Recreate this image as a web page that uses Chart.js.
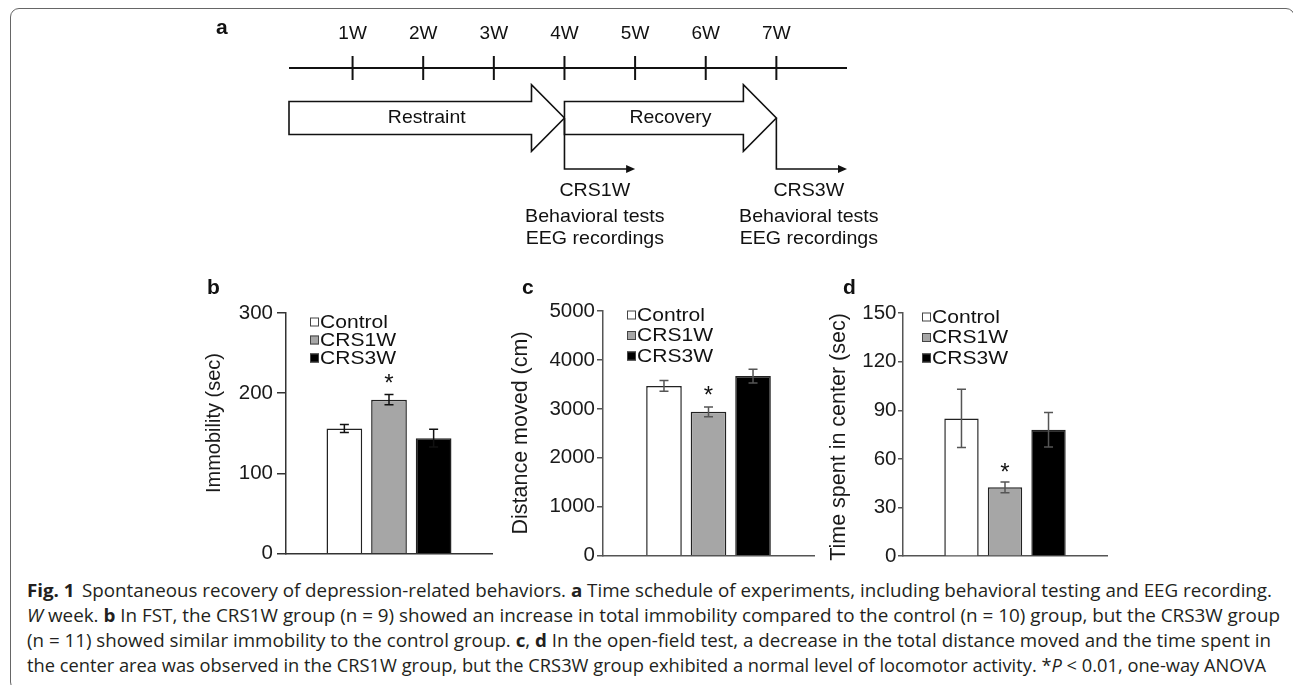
<!DOCTYPE html>
<html lang="en">
<head>
<meta charset="UTF-8">
<meta name="viewport" content="width=device-width, initial-scale=1.0">
<title>Fig. 1 Spontaneous recovery of depression-related behaviors</title>
<script src="https://cdn.jsdelivr.net/npm/chart.js"></script>
<style>
  html, body { margin: 0; padding: 0; background: #fff; }
  body {
    position: relative;
    width: 1293px;
    height: 685px;
    overflow: hidden;
    font-family: "Liberation Sans", Arial, sans-serif;
    color: #111;
  }
  .frame {
    position: absolute;
    left: 10px; top: 8px;
    width: 1285px; height: 683px;
    border: 1px solid #666;
    border-radius: 9px;
    box-sizing: border-box;
  }
  canvas { position: absolute; }
  .tag { position: absolute; font-size: 21px; font-weight: bold; line-height: 21px; }
  #caption { position: absolute; left: 0; top: 575px; }
</style>
</head>
<body>
<div class="frame"></div>

<canvas id="schedule" width="720" height="262" style="left:180px;top:0"></canvas>
<canvas id="immobility" width="310" height="305" style="left:195px;top:265px"></canvas>
<canvas id="distance" width="330" height="305" style="left:495px;top:265px"></canvas>
<canvas id="centerTime" width="300" height="305" style="left:815px;top:265px"></canvas>

<div class="tag" style="left:216px;top:16px">a</div>
<div class="tag" style="left:207px;top:276px">b</div>
<div class="tag" style="left:522px;top:276px">c</div>
<div class="tag" style="left:843px;top:276px">d</div>

<svg id="caption" width="1293" height="110">
  <g font-family="'Open Sans', 'Noto Sans', sans-serif" font-size="17.5" fill="#231f20">
    <text x="27" y="21.5" textLength="1245" lengthAdjust="spacingAndGlyphs"><tspan font-weight="bold">Fig. 1</tspan><tspan dx="7">Spontaneous recovery of depression-related behaviors. </tspan><tspan font-weight="bold">a</tspan> Time schedule of experiments, including behavioral testing and EEG recording.</text>
    <text x="27" y="46.5" textLength="1253" lengthAdjust="spacingAndGlyphs"><tspan font-style="italic">W</tspan> week. <tspan font-weight="bold">b</tspan> In FST, the CRS1W group (n = 9) showed an increase in total immobility compared to the control (n = 10) group, but the CRS3W group</text>
    <text x="27" y="71.5" textLength="1244" lengthAdjust="spacingAndGlyphs">(n = 11) showed similar immobility to the control group. <tspan font-weight="bold">c</tspan>, <tspan font-weight="bold">d</tspan> In the open-field test, a decrease in the total distance moved and the time spent in</text>
    <text x="27" y="96.5" textLength="1239" lengthAdjust="spacingAndGlyphs">the center area was observed in the CRS1W group, but the CRS3W group exhibited a normal level of locomotor activity. *<tspan font-style="italic">P</tspan> &lt; 0.01, one-way ANOVA</text>
  </g>
</svg>

<script>
// ---- data ----
const groups = ['Control', 'CRS1W', 'CRS3W'];
const groupFill = ['#ffffff', '#a6a6a6', '#000000'];
const starred = [false, true, false];   // *P < 0.01 vs control

// b: forced swim test
const immobilityMean = [156, 192, 144];
const immobilityErr = [5, 6.5, 11];
const immobilityTicks = [0, 100, 200, 300];

// c: open field, distance
const distanceMean = [3470, 2940, 3670];
const distanceErr = [110, 100, 140];
const distanceTicks = [0, 1000, 2000, 3000, 4000, 5000];

// d: open field, time in center
const centerMean = [85, 42.5, 78];
const centerErr = [18, 3.3, 10.7];
const centerTicks = [0, 30, 60, 90, 120, 150];

// a: time schedule (weeks)
const weekTicks = [1, 2, 3, 4, 5, 6, 7];
const weekLabels = ['1W', '2W', '3W', '4W', '5W', '6W', '7W'];
const timelineSpan = [0.1, 8];
const phaseLabels = ['Restraint', 'Recovery'];
const phaseStart = [0.1, 4];
const phaseEnd = [4, 7];
const testWeek = [4, 7];
const testUntil = [5, 8];
const testTextAt = [4.43, 7.46];
const testLines = [
  ['CRS1W', 'Behavioral tests', 'EEG recordings'],
  ['CRS3W', 'Behavioral tests', 'EEG recordings']
];

// ---- drawing ----
const FONT = '"Liberation Sans", Arial, sans-serif';
Chart.defaults.font.family = FONT;
Chart.defaults.color = '#1a1a1a';

function wideText(ctx, text, x, y, sx) {
  ctx.save();
  ctx.translate(x, y);
  ctx.scale(sx, 1);
  ctx.fillText(text, 0, 0);
  ctx.restore();
}

// lanes of the schedule, in y-units of panel a
const lane = { arrow: -1, body: 0.33, head: 0.667, headLen: 0.467, branch: -2.02, rows: [-2.45, -2.97, -3.42] };

const schedulePlugin = {
  id: 'schedule',
  afterDatasetsDraw(chart) {
    const { ctx, scales: { x, y } } = chart;
    ctx.save();
    ctx.lineWidth = 1.6;
    ctx.strokeStyle = '#111';
    ctx.lineJoin = 'miter';

    phaseLabels.forEach((label, i) => {
      const x0 = x.getPixelForValue(phaseStart[i]);
      const tip = x.getPixelForValue(phaseEnd[i]);
      const base = x.getPixelForValue(phaseEnd[i] - lane.headLen);
      const yc = y.getPixelForValue(lane.arrow);
      const bt = y.getPixelForValue(lane.arrow + lane.body);
      const bb = y.getPixelForValue(lane.arrow - lane.body);
      const ht = y.getPixelForValue(lane.arrow + lane.head);
      const hb = y.getPixelForValue(lane.arrow - lane.head);
      ctx.beginPath();
      ctx.moveTo(x0, bt);
      ctx.lineTo(base, bt);
      ctx.lineTo(base, ht);
      ctx.lineTo(tip, yc);
      ctx.lineTo(base, hb);
      ctx.lineTo(base, bb);
      ctx.lineTo(x0, bb);
      ctx.closePath();
      ctx.fillStyle = '#fff';
      ctx.fill();
      ctx.stroke();

      ctx.fillStyle = '#111';
      ctx.font = '18.5px ' + FONT;
      ctx.textAlign = 'center';
      ctx.textBaseline = 'middle';
      wideText(ctx, label, (x0 + tip) / 2, yc, 1.05);
    });

    testWeek.forEach((w, i) => {
      const xs = x.getPixelForValue(w);
      const xe = x.getPixelForValue(testUntil[i]);
      const ys = y.getPixelForValue(lane.arrow);
      const yb = y.getPixelForValue(lane.branch);
      ctx.beginPath();
      ctx.moveTo(xs, ys);
      ctx.lineTo(xs, yb);
      ctx.lineTo(xe - 8, yb);
      ctx.stroke();
      ctx.beginPath();
      ctx.moveTo(xe, yb);
      ctx.lineTo(xe - 9, yb - 4);
      ctx.lineTo(xe - 9, yb + 4);
      ctx.closePath();
      ctx.fillStyle = '#111';
      ctx.fill();

      ctx.font = '18.5px ' + FONT;
      ctx.textAlign = 'center';
      ctx.textBaseline = 'middle';
      testLines[i].forEach((t, r) => {
        wideText(ctx, t, x.getPixelForValue(testTextAt[i]), y.getPixelForValue(lane.rows[r]), 1.06);
      });
    });
    ctx.restore();
  }
};

new Chart(document.getElementById('schedule'), {
  type: 'line',
  data: {
    datasets: [
      {
        data: timelineSpan.map(w => ({ x: w, y: 0 })),
        borderColor: '#111',
        borderWidth: 2,
        pointRadius: 0
      },
      {
        data: weekTicks.map(w => ({ x: w, y: 0 })),
        showLine: false,
        pointStyle: 'line',
        pointRotation: 90,
        pointRadius: 12,
        pointBorderColor: '#111',
        pointBorderWidth: 2
      }
    ]
  },
  options: {
    responsive: false,
    animation: false,
    events: [],
    layout: { padding: { top: 18, left: 109, right: 53, bottom: 7 } },
    plugins: { legend: { display: false }, tooltip: { enabled: false } },
    scales: {
      x: {
        type: 'linear',
        position: 'top',
        min: timelineSpan[0],
        max: timelineSpan[1],
        grid: { display: false, drawTicks: false },
        border: { display: false },
        afterBuildTicks: s => { s.ticks = weekTicks.map(v => ({ value: v })); },
        ticks: {
          padding: 3,
          color: '#111',
          font: { size: 19 },
          maxRotation: 0,
          autoSkip: false,
          callback: (v) => weekLabels[weekTicks.indexOf(v)]
        },
        afterFit: s => { s.height = 30; }
      },
      y: { type: 'linear', display: false, min: -3.6, max: 0.4 }
    }
  },
  plugins: [schedulePlugin]
});

// error bars and asterisks
const errorBars = {
  id: 'errorBars',
  afterDatasetsDraw(chart, args, o) {
    const { ctx, scales: { y } } = chart;
    ctx.save();
    ctx.strokeStyle = o.color;
    ctx.lineWidth = 1.5;
    chart.data.datasets.forEach((ds, i) => {
      const bar = chart.getDatasetMeta(i).data[0];
      const v = ds.data[0];
      const top = y.getPixelForValue(v + o.errs[i]);
      const bot = y.getPixelForValue(v - o.errs[i]);
      ctx.beginPath();
      ctx.moveTo(bar.x, top); ctx.lineTo(bar.x, bot);
      ctx.moveTo(bar.x - 4.5, top); ctx.lineTo(bar.x + 4.5, top);
      ctx.moveTo(bar.x - 4.5, bot); ctx.lineTo(bar.x + 4.5, bot);
      ctx.stroke();
      if (starred[i]) {
        ctx.fillStyle = '#111';
        ctx.font = '24px ' + FONT;
        ctx.textAlign = 'center';
        ctx.textBaseline = 'alphabetic';
        ctx.fillText('*', bar.x, top - o.starGap + 13.5);
      }
    });
    ctx.restore();
  }
};

const groupLegend = {
  id: 'groupLegend',
  afterDraw(chart, args, o) {
    const { ctx, chartArea } = chart;
    ctx.save();
    ctx.font = '18px ' + FONT;
    ctx.textAlign = 'left';
    ctx.textBaseline = 'middle';
    chart.data.datasets.forEach((ds, i) => {
      const bx = chartArea.left + o.dx;
      const by = chartArea.top + o.dy + i * o.row;
      ctx.fillStyle = ds.backgroundColor;
      ctx.fillRect(bx, by - 4.5, 9, 9);
      ctx.strokeStyle = '#444';
      ctx.lineWidth = 1;
      ctx.strokeRect(bx + 0.5, by - 4, 8, 8);
      ctx.fillStyle = '#111';
      wideText(ctx, ds.label, bx + 10, by + 1, 1.17);
    });
    ctx.restore();
  }
};

const axisTitle = {
  id: 'axisTitle',
  afterDraw(chart, args, o) {
    const ctx = chart.ctx;
    ctx.save();
    ctx.translate(o.x, o.y);
    ctx.rotate(-Math.PI / 2);
    ctx.font = o.size + 'px ' + FONT;
    ctx.fillStyle = '#1a1a1a';
    ctx.textAlign = 'center';
    ctx.textBaseline = 'middle';
    ctx.fillText(o.text, 0, 0);
    ctx.restore();
  }
};

function barPanel(id, cfg) {
  const top = cfg.ticks[cfg.ticks.length - 1];
  new Chart(document.getElementById(id), {
    type: 'bar',
    data: {
      labels: [''],
      datasets: groups.map((g, i) => ({
        label: g,
        data: [cfg.means[i]],
        backgroundColor: groupFill[i],
        borderColor: '#222',
        borderWidth: 1.5,
        borderSkipped: 'bottom',
        categoryPercentage: cfg.catPct,
        barPercentage: cfg.barPct
      }))
    },
    options: {
      responsive: false,
      animation: false,
      events: [],
      layout: { padding: cfg.pad },
      plugins: {
        legend: { display: false },
        tooltip: { enabled: false },
        errorBars: { errs: cfg.errs, color: cfg.errColor, starGap: cfg.starGap },
        groupLegend: cfg.legend,
        axisTitle: cfg.title
      },
      scales: {
        x: {
          grid: { display: false, drawTicks: false },
          border: { display: true, color: cfg.axisColor, width: 1.5 },
          ticks: { display: false },
          afterFit: s => { s.height = 0; }
        },
        y: {
          min: 0,
          max: top,
          afterBuildTicks: s => { s.ticks = cfg.ticks.map(v => ({ value: v })); },
          grid: { display: true, drawOnChartArea: false, drawTicks: true, tickLength: cfg.tickLen, color: cfg.axisColor, lineWidth: 1.5 },
          border: { display: true, color: cfg.axisColor, width: 1.5 },
          ticks: { font: { size: 20.5 }, color: '#1a1a1a', padding: cfg.tickPad, callback: v => String(v) },
          afterFit: s => { s.width = cfg.yWidth; }
        }
      }
    },
    plugins: [errorBars, groupLegend, axisTitle]
  });
}

// canvases start at y = 265; title positions are canvas-relative
barPanel('immobility', {
  means: immobilityMean, errs: immobilityErr, ticks: immobilityTicks,
  catPct: 0.65, barPct: 0.8, yWidth: 91, tickLen: 9, tickPad: 4,
  pad: { top: 48, right: 13, bottom: 13, left: 0 },
  axisColor: '#333', errColor: '#111', starGap: 17,
  legend: { dx: 24, dy: 9, row: 18 },
  title: { text: 'Immobility (sec)', x: 19.5, y: 158, size: 20 }
});

barPanel('distance', {
  means: distanceMean, errs: distanceErr, ticks: distanceTicks,
  catPct: 0.633, barPct: 0.8, yWidth: 108, tickLen: 6, tickPad: 2,
  pad: { top: 46, right: 11, bottom: 12, left: 0 },
  axisColor: '#555', errColor: '#555', starGap: 17,
  legend: { dx: 24, dy: 4, row: 20.5 },
  title: { text: 'Distance moved (cm)', x: 26, y: 168, size: 21.5 }
});

barPanel('centerTime', {
  means: centerMean, errs: centerErr, ticks: centerTicks,
  catPct: 0.64, barPct: 0.79, yWidth: 88, tickLen: 5, tickPad: 1.5,
  pad: { top: 48, right: 8, bottom: 11, left: 0 },
  axisColor: '#555', errColor: '#555', starGap: 15,
  legend: { dx: 19, dy: 4, row: 20.5 },
  title: { text: 'Time spent in center (sec)', x: 24, y: 172, size: 21.5 }
});
</script>
</body>
</html>
